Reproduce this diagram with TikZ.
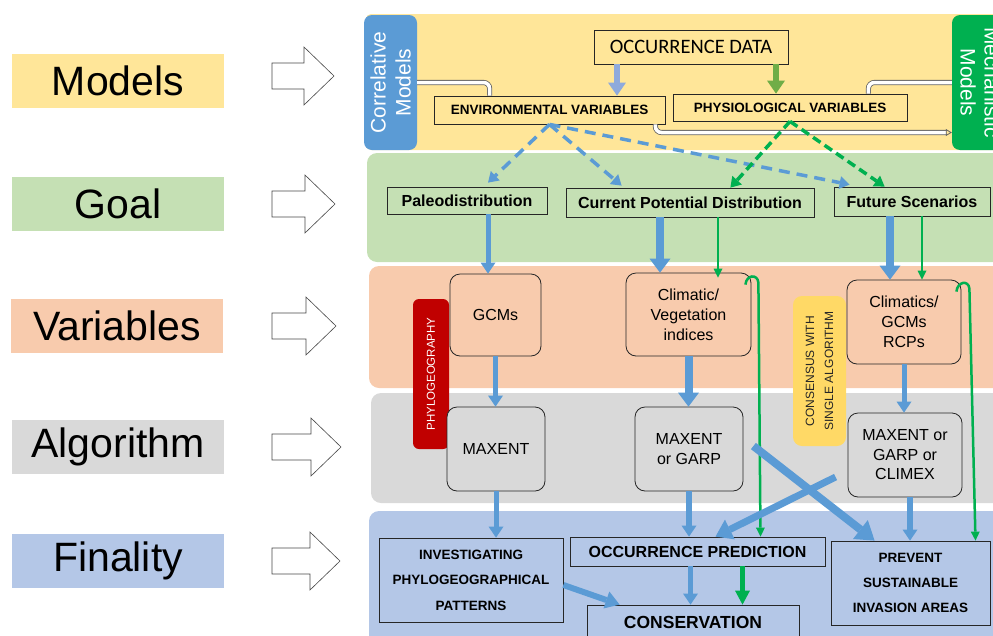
\documentclass[tikz,border=0pt]{standalone}
\usepackage{fontspec}
\setmainfont{Liberation Sans}
\newfontfamily\calfont{Carlito}
\usetikzlibrary{arrows.meta,calc,positioning}
\definecolor{BandYellow}{HTML}{FFE699}
\definecolor{BandGreen}{HTML}{C5E0B4}
\definecolor{BandPeach}{HTML}{F8CBAD}
\definecolor{BandGray}{HTML}{D9D9D9}
\definecolor{BandBlue}{HTML}{B4C7E7}
\definecolor{ArrowBlue}{HTML}{5B9BD5}
\definecolor{PaleBlue}{HTML}{8FAADC}
\definecolor{LeafGreen}{HTML}{70AD47}
\definecolor{LineGreen}{HTML}{00B050}
\definecolor{PhyloRed}{HTML}{C00000}
\definecolor{NoteYellow}{HTML}{FFD966}
\definecolor{Ink}{HTML}{262626}

\tikzset{
  sidelabel/.style={minimum width=212pt,minimum height=54pt,inner sep=0pt,
    font=\fontsize{41}{44}\selectfont},
  hollow/.style={draw=Ink!85,fill=white,line width=0.6pt},
  flatbox/.style={draw=Ink,line width=0.8pt,inner sep=0pt,align=center},
  roundbox/.style={draw=Ink,line width=0.8pt,rounded corners=10pt,inner sep=0pt,
    align=center,font=\fontsize{16}{20}\selectfont},
  flow/.style={draw=ArrowBlue,line width=5pt,
    -{Triangle[length=11pt,width=15pt,line width=0pt]}},
  bigflow/.style={draw=ArrowBlue,line width=8pt,
    -{Triangle[length=14pt,width=21pt,line width=0pt]}},
  gflow/.style={draw=LineGreen,line width=2.5pt,
    -{Triangle[length=9pt,width=9pt,line width=0pt]}},
  dflow/.style={draw=ArrowBlue,line width=3.5pt,dash pattern=on 11pt off 7pt,
    -{Triangle[length=10pt,width=13pt,line width=0pt]}},
  gdflow/.style={draw=LineGreen,line width=3.5pt,dash pattern=on 9pt off 5pt,
    -{Triangle[length=10pt,width=13pt,line width=0pt]}},
  link/.style={draw=gray!75!black,line width=0.8pt,double=white,
    double distance=3.5pt,rounded corners=6pt}
}

\begin{document}
\begin{tikzpicture}[x=1pt,y=-1pt]
  \useasboundingbox (0,0) rectangle (993,635);
  \clip (0,0) rectangle (993,635);

  % left column
  \node[sidelabel,fill=BandYellow] (lblmodels) at (118,81) {Models};
  \node[sidelabel,fill=BandGreen] (lblgoal) at (118,204) {Goal};
  \node[sidelabel,fill=BandPeach] (lblvar) at (117,326) {Variables};
  \node[sidelabel,fill=BandGray] (lblalgo) at (118,447) {Algorithm};
  \node[sidelabel,fill=BandBlue] (lblfin) at (118,561) {Finality};

  \draw[hollow,shift={(0,76)}] (272,-13) -- (304,-13) -- (304,-29) -- (334,0)
    -- (304,29) -- (304,13) -- (272,13) -- cycle;
  \draw[hollow,shift={(0,204)}] (272,-13) -- (305,-13) -- (305,-29) -- (335,0)
    -- (305,29) -- (305,13) -- (272,13) -- cycle;
  \draw[hollow,shift={(0,326)}] (272,-13) -- (306,-13) -- (306,-29) -- (336,0)
    -- (306,29) -- (306,13) -- (272,13) -- cycle;
  \draw[hollow,shift={(0,447)}] (272,-13) -- (311,-13) -- (311,-29) -- (341,0)
    -- (311,29) -- (311,13) -- (272,13) -- cycle;
  \draw[hollow,shift={(0,561)}] (272,-13) -- (310,-13) -- (310,-29) -- (340,0)
    -- (310,29) -- (310,13) -- (272,13) -- cycle;

  % bands
  \fill[BandYellow,rounded corners=5pt] (366,14) rectangle (1005,150);
  \fill[BandGreen,rounded corners=10pt] (367,153) rectangle (1005,262);
  \fill[BandPeach,rounded corners=10pt] (369,266) rectangle (1005,388);
  \fill[BandGray,rounded corners=10pt] (371,393) rectangle (1005,503);
  \fill[BandBlue,rounded corners=10pt] (369,511) rectangle (1005,650);

  % models row
  \node[rotate=90,fill=ArrowBlue,rounded corners=8pt,minimum width=135pt,
        minimum height=53pt,inner sep=0pt,align=center,text=white,
        font=\fontsize{21}{25}\selectfont] (corrmod) at (390.5,82.5)
    {Correlative\\Models};
  \node[rotate=-90,fill=LineGreen,rounded corners=8pt,minimum width=135pt,
        minimum height=56pt,inner sep=0pt,align=center,text=white,
        font=\fontsize{21}{24}\selectfont] (mechmod) at (980,82.5)
    {Mechanistic\\Models};
  \node[flatbox,fill=BandYellow,minimum width=194pt,minimum height=34pt,
        font=\calfont\fontsize{20.5}{22}\selectfont] (occdata) at (691,47)
    {OCCURRENCE DATA};
  \node[flatbox,fill=BandYellow,minimum width=231pt,minimum height=28pt,
        font=\bfseries\fontsize{13.5}{15}\selectfont] (envvar) at (549.5,110)
    {ENVIRONMENTAL VARIABLES};
  \node[flatbox,fill=BandYellow,minimum width=234pt,minimum height=27pt,
        font=\bfseries\fontsize{13.5}{15}\selectfont] (physvar) at (790,107.5)
    {PHYSIOLOGICAL VARIABLES};

  \draw[link] (corrmod.south) -| ([xshift=56pt]envvar.north west);
  \draw[link] (mechmod.south) -| ([xshift=-39pt]physvar.north east);
  \draw[link,-{Triangle[open,length=6pt,width=7pt]}]
    ([xshift=-10pt]envvar.south east) |- ([yshift=-50pt]mechmod.south);
  \draw[draw=PaleBlue,line width=6pt,-{Triangle[length=13pt,width=18pt,line width=0pt]}]
    ([xshift=-74pt]occdata.south) -- ([xshift=-74pt]occdata.south |- envvar.north);
  \draw[draw=LeafGreen,line width=6pt,-{Triangle[length=13pt,width=18pt,line width=0pt]}]
    ([xshift=85pt]occdata.south) -- ([xshift=85pt]occdata.south |- physvar.north);

  % goal row
  \node[flatbox,fill=BandGreen,minimum width=160pt,minimum height=27pt,
        font=\bfseries\fontsize{16}{18}\selectfont] (paleo) at (467,200.5)
    {Paleodistribution};
  \node[flatbox,fill=BandGreen,minimum width=248pt,minimum height=29pt,
        font=\bfseries\fontsize{16}{18}\selectfont] (current) at (690,202.5)
    {Current Potential Distribution};
  \node[flatbox,fill=BandGreen,minimum width=156pt,minimum height=29pt,
        font=\bfseries\fontsize{16}{18}\selectfont] (future) at (912,201.5)
    {Future Scenarios};

  \draw[dflow] (envvar.south) -- ([xshift=21pt,yshift=4pt]paleo.north);
  \draw[dflow] (envvar.south) -- ([xshift=56pt,yshift=2pt]current.north west);
  \draw[dflow] (envvar.south) -- ([xshift=16pt,yshift=2pt]future.north west);
  \draw[gdflow] (physvar.south) -- ([xshift=-84pt]current.north east);
  \draw[gdflow] (physvar.south) -- ([xshift=51pt]future.north west);

  % variables and algorithm rows
  \node[rotate=90,fill=PhyloRed,rounded corners=6pt,minimum width=150pt,
        minimum height=36pt,inner sep=0pt,text=white,
        font=\fontsize{11.5}{13}\selectfont] (phylo) at (431,374)
    {PHYLOGEOGRAPHY};
  \node[rotate=90,fill=NoteYellow,rounded corners=9pt,minimum width=150pt,
        minimum height=53pt,inner sep=0pt,align=center,text=Ink,
        font=\fontsize{12}{19}\selectfont] (consensus) at (819.5,371)
    {CONSENSUS WITH\\SINGLE ALGORITHM};

  \node[roundbox,fill=BandPeach,minimum width=91pt,minimum height=82pt]
    (gcms) at (495.5,315) {GCMs};
  \node[roundbox,fill=BandPeach,minimum width=125pt,minimum height=83pt]
    (climatic) at (688.5,314.5) {Climatic/\\Vegetation\\indices};
  \node[roundbox,fill=BandPeach,minimum width=114pt,minimum height=84pt]
    (climatics) at (904,322) {Climatics/\\GCMs\\RCPs};

  \node[roundbox,fill=BandGray,minimum width=98pt,minimum height=84pt]
    (maxent) at (496,449) {MAXENT};
  \node[roundbox,fill=BandGray,minimum width=108pt,minimum height=84pt]
    (maxgarp) at (689,449) {MAXENT\\or GARP};
  \node[roundbox,fill=BandGray,minimum width=114pt,minimum height=84pt,
        font=\fontsize{16}{19.5}\selectfont]
    (climex) at (905,455) {MAXENT or\\GARP or\\CLIMEX};

  % finality row
  \node[flatbox,fill=BandBlue,minimum width=184pt,minimum height=84pt,
        font=\bfseries\fontsize{13.5}{25.5}\selectfont] (invest) at (471,580)
    {INVESTIGATING\\PHYLOGEOGRAPHICAL\\PATTERNS};
  \node[flatbox,fill=BandBlue,minimum width=255pt,minimum height=29pt,
        font=\bfseries\fontsize{16}{18}\selectfont] (occpred) at (697.5,551.5)
    {OCCURRENCE PREDICTION};
  \node[flatbox,fill=BandBlue,minimum width=212pt,minimum height=34pt,
        font=\bfseries\fontsize{17.5}{19}\selectfont] (conserv) at (693,622)
    {CONSERVATION};
  \node[flatbox,fill=BandBlue,minimum width=159pt,minimum height=84pt,
        font=\bfseries\fontsize{13.5}{25}\selectfont] (prevent) at (910.5,583)
    {PREVENT\\SUSTAINABLE\\INVASION AREAS};

  % goal to variables
  \draw[flow] ([xshift=21pt]paleo.south) -- ([xshift=21pt]paleo.south |- gcms.north);
  \draw[bigflow] ([xshift=-30pt]current.south) -- ([xshift=-30pt]current.south |- climatic.north);
  \draw[gflow] ([xshift=28pt]current.south) -- ([xshift=28pt,yshift=-5pt]current.south |- climatic.north);
  \draw[bigflow] ([xshift=-22pt]future.south) -- ([xshift=-22pt]future.south |- climatics.north);
  \draw[gflow] ([xshift=10pt]future.south) -- ([xshift=10pt]future.south |- climatics.north);

  % variables to algorithm
  \draw[flow] (gcms.south) -- (gcms.south |- maxent.north);
  \draw[bigflow] (climatic.south) -- (climatic.south |- maxgarp.north);
  \draw[flow] (climatics.south) -- (climatics.south |- climex.north);

  % green bypass lines
  \draw[gflow] ([xshift=-6pt,yshift=-12pt]climatic.north east)
    .. controls +(1,-10) and +(-1,-9) .. +(13,-2)
    -- ([xshift=63pt]occpred.north);
  \draw[gflow] ([xshift=-5pt,yshift=-12pt]climatics.north east)
    .. controls +(1,-10) and +(-1,-9) .. +(13,-3)
    -- ([xshift=65pt]prevent.north);

  % algorithm to finality
  \draw[flow] (maxent.south) -- (maxent.south |- invest.north);
  \draw[flow,line width=6pt] (maxgarp.south) -- (maxgarp.south |- occpred.north);
  \draw[flow,line width=6pt] ([xshift=5pt]climex.south) -- ([xshift=5pt]climex.south |- prevent.north);
  \draw[bigflow,-{Triangle[length=18pt,width=24pt,line width=0pt]}]
    ([xshift=10pt,yshift=3pt]maxgarp.east) -- ([xshift=44pt]prevent.north west);
  \draw[bigflow,line width=7pt,-{Triangle[length=16pt,width=22pt,line width=0pt]}]
    ([xshift=-12pt,yshift=-22pt]climex.west) -- ([xshift=18pt]occpred.north);

  % finality links
  \draw[flow,line width=6pt,-{Triangle[length=14pt,width=18pt,line width=0pt]}]
    ([yshift=-5pt]invest.east) -- ([xshift=33pt]conserv.north west);
  \draw[flow] ([xshift=-7pt]occpred.south) -- ([xshift=-7pt]occpred.south |- conserv.north);
  \draw[draw=LineGreen,line width=4.5pt,-{Triangle[length=14pt,width=15pt,line width=0pt]}]
    ([xshift=45pt]occpred.south) -- ([xshift=45pt]occpred.south |- conserv.north);
\end{tikzpicture}
\end{document}
